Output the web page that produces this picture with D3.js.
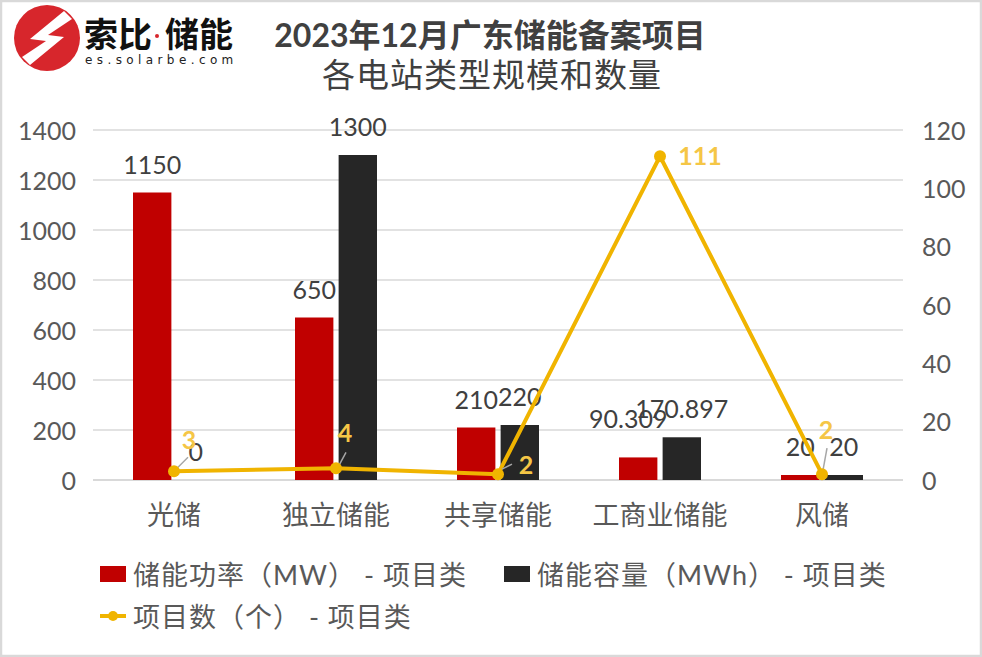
<!DOCTYPE html>
<html><head><meta charset="utf-8">
<script src="https://cdn.jsdelivr.net/npm/d3@7"></script>
<style>
html,body{margin:0;padding:0;background:#fff;}
svg{display:block;}
text{font-family:Lato,"Noto Sans CJK SC",sans-serif;}
</style></head>
<body>
<script>
const categories = ["光储","独立储能","共享储能","工商业储能","风储"];
const powerMW = [1150, 650, 210, 90.309, 20];
const capacityMWh = [0, 1300, 220, 170.897, 20];
const projectCount = [3, 4, 2, 111, 2];
const leftTicks = [0,200,400,600,800,1000,1200,1400];
const rightTicks = [0,20,40,60,80,100,120];
const seriesNames = ["储能功率（MW） - 项目类","储能容量（MWh） - 项目类","项目数（个） - 项目类"];
const titleLines = ["2023年12月广东储能备案项目","各电站类型规模和数量"];

// label placement tweaks (presentation only)
const powerLabelShift = [[0,0],[0,0],[0,0],[-10,-10],[0,0]];
const countLabelPos = [[15,-31],[9,-35],[28,-9],[40,0],[4,-44]];
const countLeader = [[[3,-3],[14,-14]],[[3,-3],[10,-16]],[[4,-5],[14,-10]],null,[[1,-4],[5,-26]]];

const W=982,H=657;
const svg=d3.select("body").append("svg").attr("width",W).attr("height",H);
svg.append("rect").attr("x",1).attr("y",1).attr("width",W-2).attr("height",H-2)
  .attr("fill","#fff").attr("stroke","#d9d9d9").attr("stroke-width",2.5);

const RED="#c00000",BLK="#262626",YEL="#f0b400",YLAB="#f5c646",TXT="#595959",LAB="#404040";

const x=d3.scaleBand().domain(categories).range([93,903]);
const x1=d3.scaleBand().domain(["p","c"]).range([40,122]).paddingInner(0.12);
const yL=d3.scaleLinear().domain([0,1400]).range([480,130]);
const yR=d3.scaleLinear().domain([0,120]).range([480,130]);

// grid
svg.append("g").selectAll("line").data(leftTicks).join("line")
  .attr("x1",93).attr("x2",903).attr("y1",d=>yL(d)).attr("y2",d=>yL(d))
  .attr("stroke","#d9d9d9").attr("stroke-width",d=>d===0?2:1.3);

// left axis
const gL=svg.append("g").attr("transform","translate(76,0)")
  .call(d3.axisLeft(yL).tickValues(leftTicks).tickFormat(d3.format("d")).tickSize(0).tickPadding(0));
gL.select(".domain").remove();
gL.selectAll("text").attr("font-size",25).attr("fill",TXT).attr("dy","0.36em")
  .style("font-family","Lato,sans-serif");
// right axis
const gR=svg.append("g").attr("transform","translate(922,0)")
  .call(d3.axisRight(yR).tickValues(rightTicks).tickFormat(d3.format("d")).tickSize(0).tickPadding(0));
gR.select(".domain").remove();
gR.selectAll("text").attr("font-size",25).attr("fill",TXT).attr("dy","0.36em")
  .style("font-family","Lato,sans-serif");
// x axis
const gX=svg.append("g").attr("transform","translate(0,480)")
  .call(d3.axisBottom(x).tickSize(0).tickPadding(0));
gX.select(".domain").remove();
gX.selectAll("text").attr("font-size",27).attr("fill",TXT).attr("dy",0).attr("y",45);

// bars
const bars=svg.append("g");
bars.selectAll("rect.p").data(categories).join("rect").attr("class","p")
  .attr("x",d=>x(d)+x1("p")).attr("width",x1.bandwidth())
  .attr("y",(d,i)=>yL(powerMW[i])).attr("height",(d,i)=>480-yL(powerMW[i])).attr("fill",RED);
bars.selectAll("rect.c").data(categories).join("rect").attr("class","c")
  .attr("x",d=>x(d)+x1("c")).attr("width",x1.bandwidth())
  .attr("y",(d,i)=>yL(capacityMWh[i])).attr("height",(d,i)=>480-yL(capacityMWh[i])).attr("fill",BLK);

// bar labels
const bl=svg.append("g").attr("font-size",25).attr("fill",LAB).attr("text-anchor","middle");
bl.selectAll("text.p").data(categories).join("text").attr("class","p")
  .attr("x",(d,i)=>x(d)+x1("p")+x1.bandwidth()/2+powerLabelShift[i][0])
  .attr("y",(d,i)=>yL(powerMW[i])-19+powerLabelShift[i][1])
  .text((d,i)=>powerMW[i]);
bl.selectAll("text.c").data(categories).join("text").attr("class","c")
  .attr("x",(d,i)=>x(d)+x1("c")+x1.bandwidth()/2)
  .attr("y",(d,i)=>yL(capacityMWh[i])-19)
  .text((d,i)=>capacityMWh[i]);

// line
const cx=d=>x(d)+x.bandwidth()/2;
const line=d3.line().x((d,i)=>cx(categories[i])).y(d=>yR(d));
svg.append("path").datum(projectCount).attr("d",line).attr("fill","none")
  .attr("stroke",YEL).attr("stroke-width",4).attr("stroke-linejoin","round");
// leader lines
svg.append("g").selectAll("line").data(categories.filter((d,i)=>countLeader[i])).join("line")
  .each(function(d){
    const i=categories.indexOf(d),L=countLeader[i],px=cx(d),py=yR(projectCount[i]);
    d3.select(this).attr("x1",px+L[0][0]).attr("y1",py+L[0][1]).attr("x2",px+L[1][0]).attr("y2",py+L[1][1]);
  }).attr("stroke","#a6a6a6").attr("stroke-width",1.5);
svg.append("g").selectAll("circle").data(projectCount).join("circle")
  .attr("cx",(d,i)=>cx(categories[i])).attr("cy",d=>yR(d)).attr("r",6).attr("fill",YEL);
svg.append("g").attr("font-size",25).attr("font-weight","bold").attr("fill",YLAB).attr("text-anchor","middle")
  .selectAll("text").data(projectCount).join("text")
  .attr("x",(d,i)=>cx(categories[i])+countLabelPos[i][0])
  .attr("y",(d,i)=>yR(d)+countLabelPos[i][1]+9)
  .text(d=>d);

// legend
const lg=svg.append("g").attr("font-size",27).attr("fill",TXT).attr("letter-spacing",1);
lg.append("rect").attr("x",100).attr("y",566).attr("width",26).attr("height",16).attr("fill",RED);
lg.append("text").attr("x",133).attr("y",585).text(seriesNames[0]);
lg.append("rect").attr("x",504).attr("y",566).attr("width",26).attr("height",16).attr("fill",BLK);
lg.append("text").attr("x",537).attr("y",585).text(seriesNames[1]);
lg.append("line").attr("x1",100).attr("x2",126).attr("y1",616).attr("y2",616).attr("stroke",YEL).attr("stroke-width",4);
lg.append("circle").attr("cx",113).attr("cy",616).attr("r",5).attr("fill",YEL);
lg.append("text").attr("x",133).attr("y",627).text(seriesNames[2]);

// title
svg.append("text").attr("x",490).attr("y",47).attr("text-anchor","middle").attr("font-size",32)
  .attr("font-weight","bold").attr("fill",LAB).text(titleLines[0]);
svg.append("text").attr("x",492).attr("y",87).attr("text-anchor","middle").attr("font-size",33)
  .attr("letter-spacing",1).attr("fill",LAB).text(titleLines[1]);

// logo
const logo=svg.append("g").attr("transform","translate(47,38)");
logo.append("circle").attr("r",33).attr("fill","#d7262c");
logo.append("path").attr("d","M17,-27 L25,-19 L1,-3 L17,-1 L-17,27 L-25,19 L-1,3 L-17,1 Z").attr("fill","#fff");
const lt=svg.append("g").attr("font-weight","bold").attr("fill","#111").style("font-family","'Noto Sans CJK SC',sans-serif");
lt.append("text").attr("x",84).attr("y",47).attr("font-size",34).text("索比");
lt.append("circle").attr("cx",157).attr("cy",36).attr("r",2).attr("fill","#d7262c");
lt.append("text").attr("x",165).attr("y",47).attr("font-size",34).text("储能");
svg.append("text").attr("x",85).attr("y",64).attr("font-size",12).attr("letter-spacing",4.4)
  .attr("fill","#222").style("font-family","'DejaVu Sans',sans-serif").text("es.solarbe.com");
</script>
</body></html>
